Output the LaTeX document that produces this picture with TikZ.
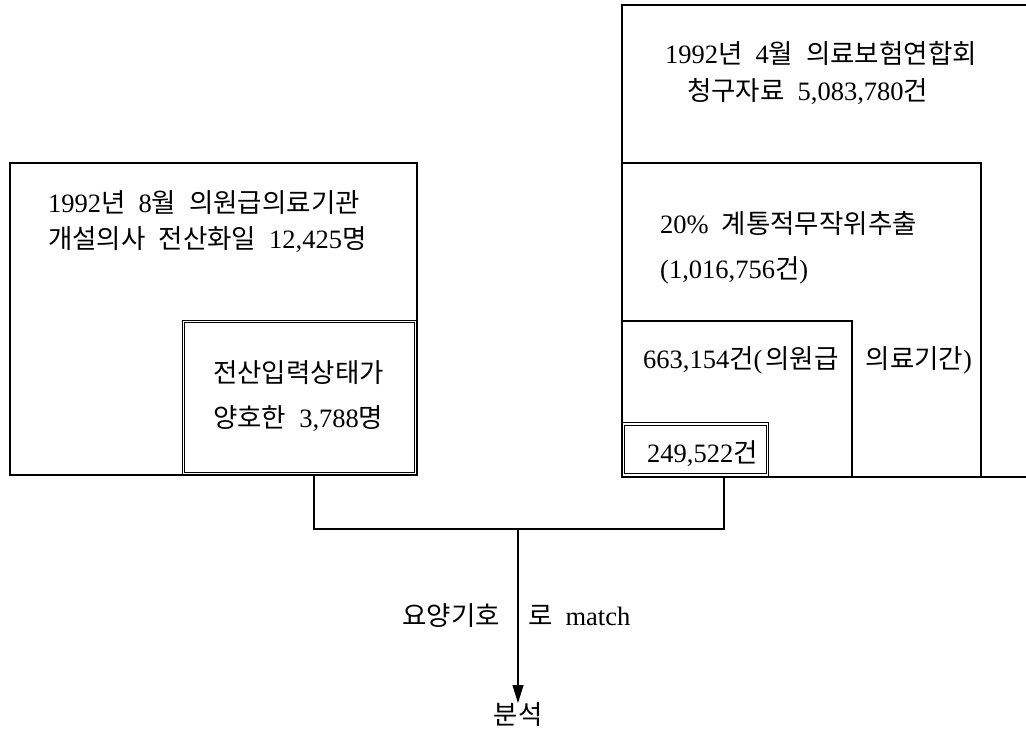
\documentclass[tikz,border=0pt]{standalone}
\usepackage{fontspec}
\setmainfont{Liberation Serif}
\newfontfamily\kr{Noto Sans CJK KR}
\usetikzlibrary{arrows.meta}
\newcommand{\wsp}{\spaceskip=13pt plus 1pt\relax}
\tikzset{
  frame/.style={draw, line width=1.1pt},
  dbl/.style={draw, line width=0.9pt, double, double distance=1.6pt},
  txt/.style={anchor=base west, inner sep=0pt, font=\fontsize{26.5}{30}\selectfont\wsp},
  conn/.style={draw, line width=1.1pt},
}
\begin{document}
\begin{tikzpicture}[x=1pt,y=-1pt]
\useasboundingbox[fill=white] (0,0) rectangle (1026,732);
% left structure
\node[frame, minimum width=407pt, minimum height=312pt, inner sep=0pt, outer sep=0pt] (lbox) at (213.5,319) {};
\node[dbl, minimum width=232pt, minimum height=152pt, inner sep=0pt, outer sep=0pt] (lin) at (299.5,397.5) {};
% right structure
\draw[frame] (1030,5) -- (622,5) -- (622,477) -- (1030,477);
\node[frame, minimum width=359pt, minimum height=314pt, inner sep=0pt, outer sep=0pt] (r2) at (801.5,320) {};
\node[frame, minimum width=230pt, minimum height=156pt, inner sep=0pt, outer sep=0pt] (r3) at (737,399) {};
\node[dbl, minimum width=144pt, minimum height=51pt, inner sep=0pt, outer sep=0pt] (r4) at (695.5,449.5) {};
% texts
\node[txt] (t1) at (665,63) {1992{\kr 년} 4{\kr 월} {\kr 의료보험연합회}};
\node[txt] (t2) at (687,100) {{\kr 청구자료} 5,083,780{\kr 건}};
\node[txt] (t3) at (660,233) {20\% {\kr 계통적무작위추출}};
\node[txt] (t4) at (660,278) {(1,016,756{\kr 건})};
\node[txt] (t5) at (643,368) {663,154{\kr 건}(\hspace{3pt}{\kr 의원급}\ \hspace{14pt}{\kr 의료기간})};
\node[txt] (t6) at (647,462) {249,522{\kr 건}};
\node[txt] (l1) at (48,212) {1992{\kr 년} 8{\kr 월} {\kr 의원급의료기관}};
\node[txt] (l2) at (48,248) {{\kr 개설의사} {\kr 전산화일} 12,425{\kr 명}};
\node[txt] (l3) at (213,382) {{\kr 전산입력상태가}};
\node[txt] (l4) at (213,427) {{\kr 양호한} 3,788{\kr 명}};
% connectors
\coordinate (ja) at (314,529);
\coordinate (jb) at (724,529);
\coordinate (jm) at (518,529);
\coordinate (tip) at (518,703);
\draw[conn] (lbox.south -| ja) -- (ja) -- (jb) -- (r2.south -| jb);
\draw[conn, -{Triangle[length=18pt,width=11pt]}] (jm) -- (tip);
\node[txt, anchor=base east] (m1) at (500,625) {{\kr 요양기호}};
\node[txt] (m2) at (528,625) {{\kr 로} match};
\node[txt, anchor=base] (m3) at (518,724) {{\kr 분석}};
\end{tikzpicture}
\end{document}
